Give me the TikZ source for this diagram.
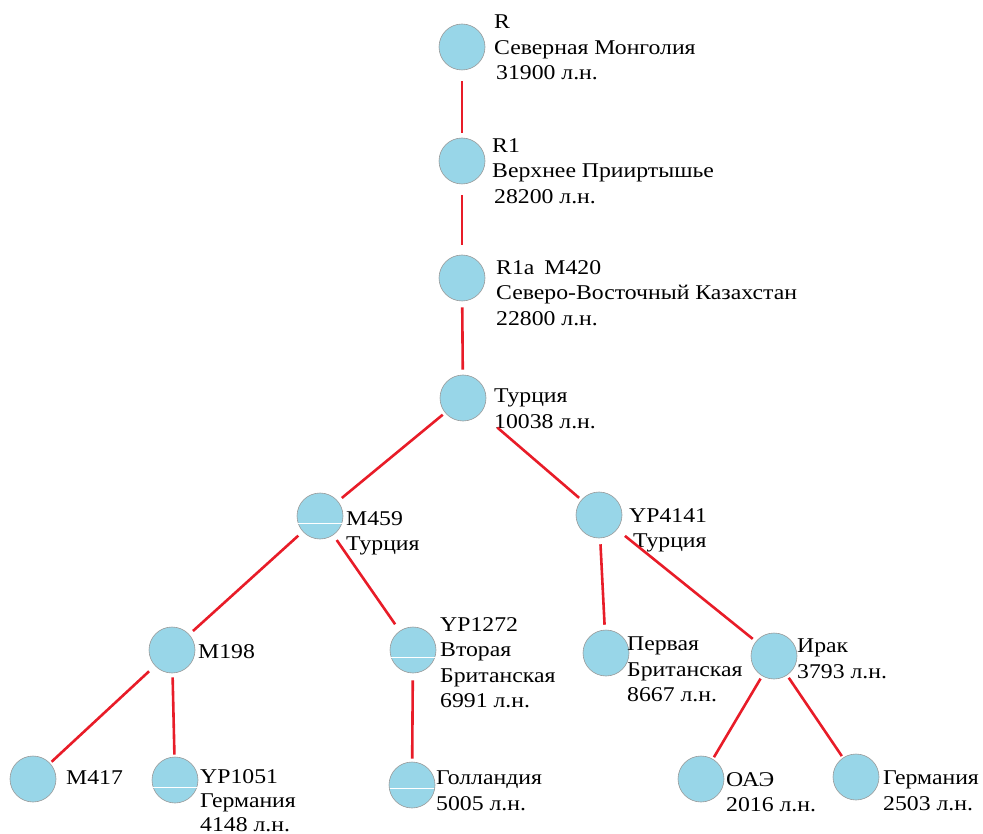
\documentclass[tikz,border=0pt]{standalone}
\usepackage{fontspec}
\setmainfont[FakeStretch=1.13]{Liberation Serif}
\definecolor{nodeblue}{RGB}{152,214,232}
\definecolor{edgered}{RGB}{232,28,40}
\begin{document}
\begin{tikzpicture}[x=1pt,y=-1pt,
  hap/.style={circle,minimum size=46pt,inner sep=0pt,fill=nodeblue,draw=gray!80,line width=0.6pt},
  lbl/.style={anchor=north west,align=left,inner sep=0pt,font=\fontsize{21}{25.5}\selectfont},
  link/.style={draw=edgered,line width=2.6pt,shorten <=6pt,shorten >=5pt},
  flaw/.style={draw=white,line width=0.8pt}]
\useasboundingbox (0,0) rectangle (983,834);
% nodes
\node[hap] (r) at (462,47) {};
\node[hap] (r1) at (462,161) {};
\node[hap] (r1a) at (462,278) {};
\node[hap] (tur) at (463,398) {};
\node[hap] (m459) at (320,516) {};
\node[hap] (yp4141) at (599,515) {};
\node[hap] (m198) at (172,650) {};
\node[hap] (yp1272) at (413,650) {};
\node[hap] (perv) at (606,653) {};
\node[hap] (irak) at (774,656) {};
\node[hap] (m417) at (33,779) {};
\node[hap] (yp1051) at (175,780) {};
\node[hap] (holl) at (412,785) {};
\node[hap] (oae) at (701,779) {};
\node[hap] (germ) at (856,777) {};
% white flaw lines
\draw[flaw] ([xshift=-22pt,yshift=-7pt]m459.center) -- ([xshift=22pt,yshift=-7pt]m459.center);
\draw[flaw] ([xshift=-22pt,yshift=-7pt]yp1272.center) -- ([xshift=22pt,yshift=-7pt]yp1272.center);
\draw[flaw] ([xshift=-22pt,yshift=-7pt]yp1051.center) -- ([xshift=22pt,yshift=-7pt]yp1051.center);
\draw[flaw] ([xshift=-22pt,yshift=-3pt]holl.center) -- ([xshift=22pt,yshift=-3pt]holl.center);
% labels
\node[lbl] (tr) at (494,15) {R\\Северная Монголия\\\hspace{2pt}31900 л.н.};
\node[lbl] (tr1) at (492,138) {R1\\Верхнее Прииртышье\\\hspace{2pt}28200 л.н.};
\node[lbl] (tr1a) at (496,260) {R1a\hspace{10pt}M420\\Северо-Восточный Казахстан\\22800 л.н.};
\node[lbl] (ttur) at (494,389) {Турция\\10038 л.н.};
\node[lbl] (tm459) at (346,511) {M459\\Турция};
\node[lbl] (typ4141) at (629,508) {YP4141\\\hspace{4pt}Турция};
\node[lbl] (tm198) at (198,644) {M198};
\node[lbl] (typ1272) at (440,617) {YP1272\\Вторая\\Британская\\6991 л.н.};
\node[lbl] (tperv) at (627,637) {Первая\\Британская\\8667 л.н.};
\node[lbl] (tirak) at (797,639) {Ирак\\3793 л.н.};
\node[lbl] (tm417) at (66,770) {M417};
\node[lbl,font=\fontsize{21}{24}\selectfont] (typ1051) at (200,769) {YP1051\\Германия\\4148 л.н.};
\node[lbl] (tholl) at (436,771) {Голландия\\5005 л.н.};
\node[lbl] (toae) at (726,772) {ОАЭ\\2016 л.н.};
\node[lbl] (tgerm) at (883,771) {Германия\\2503 л.н.};
% links
\draw[link,shorten <=11pt] (r) -- (r1);
\draw[link,shorten <=11pt,shorten >=10pt] (r1) -- (r1a);
\draw[link] (r1a) -- (tur);
\draw[link,shorten <=3pt] (tur) -- (m459);
\draw[link,shorten <=22pt,shorten >=3pt] (tur) -- (yp4141);
\draw[link] (m459) -- (m198);
\draw[link,shorten >=8pt] (m459) -- (yp1272);
\draw[link] (yp4141) -- (perv);
\draw[link,shorten <=10pt,shorten >=4pt] (yp4141) -- (irak);
\draw[link,shorten <=8pt,shorten >=2pt] (m198) -- (m417);
\draw[link,shorten <=4pt,shorten >=2pt] (m198) -- (yp1051);
\draw[link,shorten <=7pt,shorten >=3pt] (yp1272) -- (holl);
\draw[link,shorten <=3pt,shorten >=2pt] (irak) -- (oae);
\draw[link,shorten <=3pt,shorten >=2pt] (irak) -- (germ);
\end{tikzpicture}
\end{document}
